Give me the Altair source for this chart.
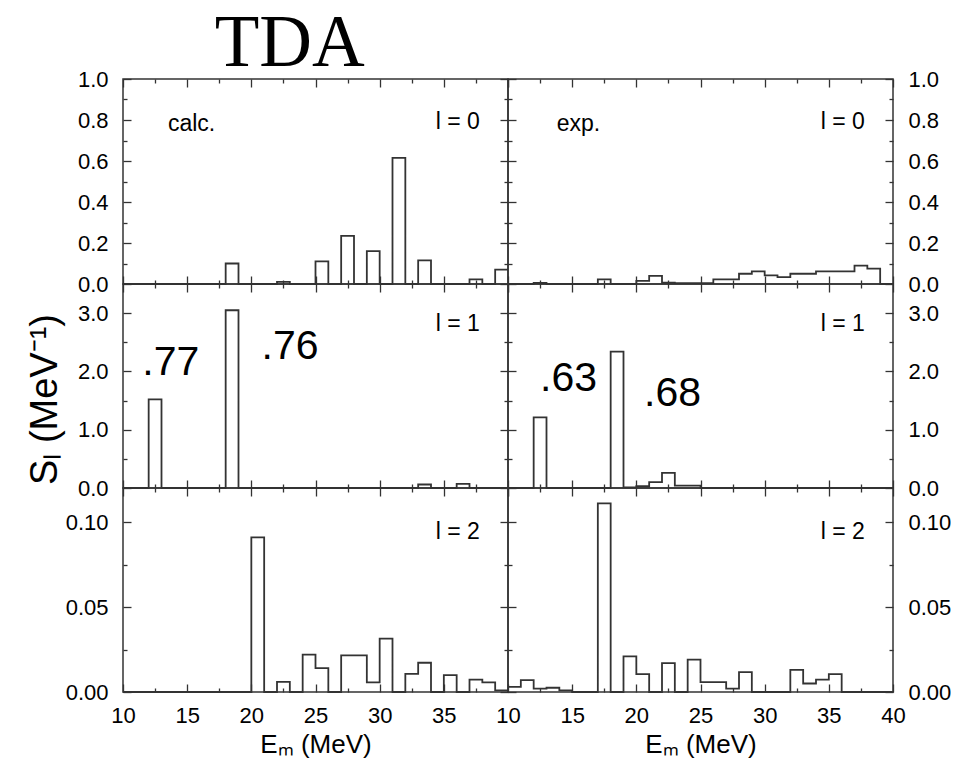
import altair as alt
import pandas as pd

# 1-MeV bin edges, 10 ... 40 MeV
edges = list(range(10, 41))

# strength per bin (bins 10-11, 11-12, ..., 39-40)
calc_l0 = [0, 0, 0, 0, 0, 0, 0, 0, 0.10, 0,
           0, 0, 0.01, 0, 0, 0.11, 0, 0.235, 0, 0.16,
           0, 0.615, 0, 0.115, 0, 0, 0, 0.023, 0, 0.07]
exp_l0 = [0, 0, 0.005, 0, 0, 0, 0, 0.023, 0, 0,
          0.015, 0.04, 0.006, 0.004, 0.004, 0.004, 0.023, 0.023, 0.05, 0.062,
          0.042, 0.034, 0.05, 0.05, 0.062, 0.062, 0.062, 0.09, 0.075, 0]
calc_l1 = [0, 0, 1.52, 0, 0, 0, 0, 0, 3.05, 0,
           0, 0, 0, 0, 0, 0, 0, 0, 0, 0,
           0, 0, 0, 0.06, 0, 0, 0.07, 0, 0, 0]
exp_l1 = [0, 0, 1.21, 0, 0, 0, 0, 0, 2.34, 0.01,
          0.03, 0.10, 0.26, 0.04, 0.04, 0, 0, 0, 0, 0,
          0, 0, 0, 0, 0, 0, 0, 0, 0, 0]
calc_l2 = [0, 0, 0, 0, 0, 0, 0, 0, 0, 0,
           0.091, 0, 0.006, 0, 0.022, 0.014, 0, 0.0215, 0.0215, 0.0057,
           0.0314, 0, 0.0107, 0.0172, 0, 0.0099, 0, 0.0073, 0.0057, 0.001]
exp_l2 = [0.003, 0.007, 0.002, 0.0025, 0.001, 0, 0, 0.111, 0, 0.021,
          0.0105, 0, 0.017, 0, 0.019, 0.0058, 0.0058, 0.002, 0.0117, 0,
          0, 0, 0.013, 0.005, 0.0073, 0.0105, 0, 0, 0, 0]

# axis setup per row
row_domains = [[0, 1.0], [0, 3.5], [0, 0.12]]
row_major = [[0, 0.2, 0.4, 0.6, 0.8, 1.0], [0, 1, 2, 3], [0, 0.05, 0.10]]
row_minor = [[0.1, 0.3, 0.5, 0.7, 0.9], [0.5, 1.5, 2.5], [0.025, 0.075]]
row_format = [".1f", ".1f", ".2f"]
row_heights = [205, 204, 204]
row_l_labels = ["l = 0", "l = 1", "l = 2"]
row_l_y = [0.79, 2.82, 0.094]

x_major_left = [10, 15, 20, 25, 30, 35]
x_major_right = [10, 15, 20, 25, 30, 35, 40]
x_minor = [12.5, 17.5, 22.5, 27.5, 32.5, 37.5]

col_tags = ["calc.", "exp."]
col_tag_x = [13.5, 13.8]
tag_y = 0.78
l_label_x = 37.8

# big annotations in the l = 1 panels: (text, E, S)
big_text = [[".77", ".76"], [".63", ".68"]]
big_x = [[11.5, 20.8], [12.5, 20.6]]
big_y = [[1.94, 2.21], [1.66, 1.40]]

y_title = "S\u2097 (MeV\u207b\u00b9)"
x_title = "E\u2098 (MeV)"

LINE = "#333333"
FONT = "Liberation Sans"
W = 385
MAJ = 8
MIN = 4


def panel(col, row, vals):
    df = pd.DataFrame({"E": edges, "S": vals + vals[-1:]})
    xs = alt.Scale(domain=[10, 40], nice=False, zero=False)
    ys = alt.Scale(domain=row_domains[row], nice=False, zero=False)
    side = "left" if col == 0 else "right"
    other = "right" if col == 0 else "left"
    bottom = row == 2
    xvals = x_major_left if col == 0 else x_major_right

    x_main = dict(orient="bottom", values=xvals, tickSize=MAJ, offset=-MAJ,
                  domain=False, grid=False, labels=bottom, labelPadding=13,
                  labelFlush=False)
    if bottom:
        x_main.update(title=x_title, titlePadding=5, titleFontSize=26)
    else:
        x_main.update(title=None)

    y_main = dict(orient=side, values=row_major[row], tickSize=MAJ, offset=-MAJ,
                  domain=False, grid=False, labels=True, format=row_format[row],
                  labelPadding=15, labelFlush=False)
    if col == 0 and row == 1:
        y_main.update(title=y_title, titlePadding=13, titleFontSize=38, titleY=115)
    else:
        y_main.update(title=None)

    def ax(orient, values, size):
        return alt.Axis(orient=orient, values=values, tickSize=size, offset=-size,
                        domain=False, grid=False, labels=False, title=None)

    base = alt.Chart(df)
    hist = base.mark_line(interpolate="step-after", color=LINE, strokeWidth=1.8).encode(
        x=alt.X("E:Q", scale=xs, axis=alt.Axis(**x_main)),
        y=alt.Y("S:Q", scale=ys, axis=alt.Axis(**y_main)),
    )
    t2 = base.mark_line(opacity=0).encode(
        x=alt.X("E:Q", scale=xs, axis=ax("bottom", x_minor, MIN)),
        y=alt.Y("S:Q", scale=ys, axis=ax(side, row_minor[row], MIN)),
    )
    t3 = base.mark_line(opacity=0).encode(
        x=alt.X("E:Q", scale=xs, axis=ax("top", x_major_right, MAJ)),
        y=alt.Y("S:Q", scale=ys, axis=ax(other, row_major[row], MAJ)),
    )
    t4 = base.mark_line(opacity=0).encode(
        x=alt.X("E:Q", scale=xs, axis=ax("top", x_minor, MIN)),
        y=alt.Y("S:Q", scale=ys, axis=ax(other, row_minor[row], MIN)),
    )

    layers = [hist, t2, t3, t4]

    ldf = pd.DataFrame({"x": [l_label_x], "y": [row_l_y[row]], "t": [row_l_labels[row]]})
    layers.append(alt.Chart(ldf).mark_text(align="right", baseline="middle", font=FONT,
                                          fontSize=23, color="black").encode(
        x=alt.X("x:Q", scale=xs, axis=None), y=alt.Y("y:Q", scale=ys, axis=None), text="t:N"))

    if row == 0:
        tdf = pd.DataFrame({"x": [col_tag_x[col]], "y": [tag_y], "t": [col_tags[col]]})
        layers.append(alt.Chart(tdf).mark_text(align="left", baseline="middle", font=FONT,
                                              fontSize=23, color="black").encode(
            x=alt.X("x:Q", scale=xs, axis=None), y=alt.Y("y:Q", scale=ys, axis=None), text="t:N"))
    if row == 1:
        bdf = pd.DataFrame({"x": big_x[col], "y": big_y[col], "t": big_text[col]})
        layers.append(alt.Chart(bdf).mark_text(align="left", baseline="alphabetic", font=FONT,
                                              fontSize=41, color="black").encode(
            x=alt.X("x:Q", scale=xs, axis=None), y=alt.Y("y:Q", scale=ys, axis=None), text="t:N"))

    return alt.layer(*layers).resolve_axis(x="independent", y="independent").properties(
        width=W, height=row_heights[row])


panels = [
    panel(0, 0, calc_l0), panel(1, 0, exp_l0),
    panel(0, 1, calc_l1), panel(1, 1, exp_l1),
    panel(0, 2, calc_l2), panel(1, 2, exp_l2),
]

chart = alt.concat(*panels, columns=2, spacing=0, bounds="flush").properties(
    title=alt.TitleParams("TDA", font="Liberation Serif", fontSize=73, fontWeight="normal",
                          color="black", anchor="start", dx=189, offset=-14),
    padding={"left": 17, "top": 0, "right": 0, "bottom": 0},
).configure_view(stroke=LINE, strokeWidth=1.5).configure_axis(
    labelFont=FONT, labelFontSize=22, labelColor="black", tickColor=LINE, tickWidth=1.3,
    titleFont=FONT, titleFontWeight="normal", titleColor="black",
)

chart.save("out.html", embed_options={"renderer": "svg", "actions": False})
